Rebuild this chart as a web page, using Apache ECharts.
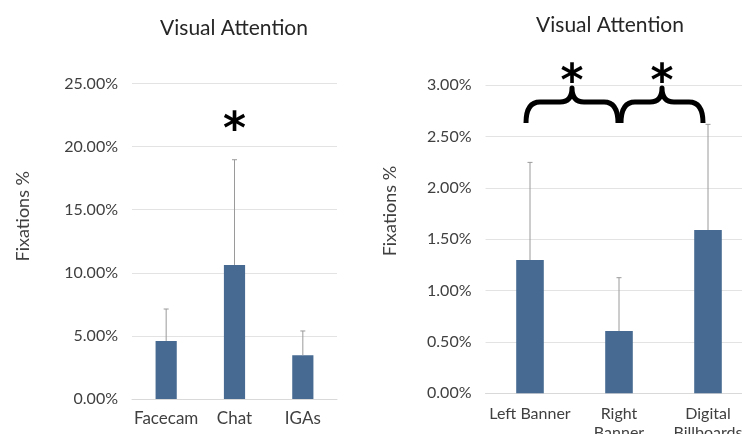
<!DOCTYPE html>
<html><head><meta charset="utf-8">
<script src="https://cdn.jsdelivr.net/npm/echarts@6/dist/echarts.min.js"></script>
<style>html,body{margin:0;padding:0;background:#fff}#c{width:742px;height:434px}</style>
</head><body><div id="c"></div>
<script>
// Left chart data (percent)
const leftCategories = ['Facecam', 'Chat', 'IGAs'];
const leftMeans = [4.6, 10.62, 3.46];
const leftUpper = [7.13, 18.96, 5.39];
const leftTicks = [0, 5, 10, 15, 20, 25];
const leftStars = [[1, 22.1]];

// Right chart data (percent)
const rightCategories = ['Left Banner', 'Right\nBanner', 'Digital\nBillboards'];
const rightMeans = [1.297, 0.606, 1.589];
const rightUpper = [2.247, 1.125, 2.617];
const rightTicks = [0, 0.5, 1, 1.5, 2, 2.5, 3];
const rightBraces = [[0, 1, 2.63], [1, 2, 2.63]];

const FONT = 'Lato';
const TXT = '#404040';
const BAR = '#466a92';

function errRender(params, api) {
  const x = api.value(0), top = api.coord([x, api.value(2)]), base = api.coord([x, api.value(1)]);
  return {type: 'group', children: [
    {type: 'line', shape: {x1: base[0], y1: base[1], x2: top[0], y2: top[1]}, style: {stroke: '#9a9a9a', lineWidth: 1}},
    {type: 'line', shape: {x1: top[0] - 2.5, y1: top[1], x2: top[0] + 2.5, y2: top[1]}, style: {stroke: '#9a9a9a', lineWidth: 1}}
  ]};
}
function starRender(params, api) {
  const p = api.coord([api.value(0), api.value(1)]);
  return {type: 'text', x: p[0], y: p[1] + 11, style: {text: '*', fontSize: 44, fontWeight: 'bold', fontFamily: 'DejaVu Sans', fill: '#000', align: 'center', verticalAlign: 'middle'}};
}
function braceRender(params, api) {
  const a = api.coord([api.value(0), api.value(2)]);
  const b = api.coord([api.value(1), api.value(2)]);
  const first = params.dataIndex === 0;
  const L = a[0] + (first ? -4 : 2), R = b[0] + (first ? -1 : -5);
  const yb = a[1], yh = yb - 21, yp = yb - 35, M = (L + R) / 2;
  const d = `M${L},${yb} Q${L},${yh} ${L+14},${yh} L${M-12},${yh} Q${M},${yh} ${M},${yp} Q${M},${yh} ${M+12},${yh} L${R-14},${yh} Q${R},${yh} ${R},${yb}`;
  return {type: 'group', children: [
    {type: 'path', shape: {pathData: d}, style: {stroke: '#000', lineWidth: 5, fill: null, lineJoin: 'round'}},
    {type: 'text', x: M, y: yp - 4, style: {text: '*', fontSize: 44, fontWeight: 'bold', fontFamily: 'DejaVu Sans', fill: '#000', align: 'center', verticalAlign: 'middle'}}
  ]};
}

const axisLabelY = () => ({color: TXT, fontFamily: FONT, fontSize: 16, margin: 14, formatter: v => v.toFixed(2) + '%'});

const chart = echarts.init(document.getElementById('c'));
chart.setOption({
  animation: false,
  title: [
    {text: 'Visual Attention', left: 229, top: 13, textAlign: 'center', textStyle: {color: '#262626', fontFamily: FONT, fontSize: 21, fontWeight: 'normal'}},
    {text: 'Visual Attention', left: 605, top: 10, textAlign: 'center', textStyle: {color: '#262626', fontFamily: FONT, fontSize: 21, fontWeight: 'normal'}}
  ],
  grid: [
    {left: 132, top: 83.5, width: 205, height: 315.5, outerBoundsMode: 'none', containLabel: false},
    {left: 485.5, top: 85, width: 267, height: 308.3, outerBoundsMode: 'none', containLabel: false}
  ],
  xAxis: [
    {type: 'category', gridIndex: 0, data: leftCategories, axisTick: {show: false}, axisLine: {lineStyle: {color: '#d9d9d9'}},
     axisLabel: {color: TXT, fontFamily: FONT, fontSize: 17, margin: 11, interval: 0}},
    {type: 'category', gridIndex: 1, data: rightCategories, axisTick: {show: false}, axisLine: {lineStyle: {color: '#d9d9d9'}},
     axisLabel: {color: TXT, fontFamily: FONT, fontSize: 16, margin: 11, lineHeight: 19, interval: 0}}
  ],
  yAxis: [
    {type: 'value', gridIndex: 0, min: leftTicks[0], max: leftTicks[leftTicks.length - 1], interval: 5,
     name: 'Fixations %', nameLocation: 'middle', nameGap: 100, nameTextStyle: {color: TXT, fontFamily: FONT, fontSize: 18, padding: [0, 0, 0, 50]},
     axisLabel: axisLabelY(), splitLine: {lineStyle: {color: '#e3e3e3'}}, axisLine: {show: false}, axisTick: {show: false}},
    {type: 'value', gridIndex: 1, min: rightTicks[0], max: rightTicks[rightTicks.length - 1], interval: 0.5,
     name: 'Fixations %', nameLocation: 'middle', nameGap: 86, nameTextStyle: {color: TXT, fontFamily: FONT, fontSize: 18, padding: [0, 0, 0, 56]},
     axisLabel: axisLabelY(), splitLine: {lineStyle: {color: '#e3e3e3'}}, axisLine: {show: false}, axisTick: {show: false}}
  ],
  series: [
    {type: 'bar', xAxisIndex: 0, yAxisIndex: 0, data: leftMeans, barWidth: '31%', itemStyle: {color: BAR}},
    {type: 'custom', xAxisIndex: 0, yAxisIndex: 0, renderItem: errRender, data: leftMeans.map((m, i) => [i, m, leftUpper[i]]), z: 3},
    {type: 'custom', xAxisIndex: 0, yAxisIndex: 0, renderItem: starRender, data: leftStars, clip: false, z: 4},
    {type: 'bar', xAxisIndex: 1, yAxisIndex: 1, data: rightMeans, barWidth: '31%', itemStyle: {color: BAR}},
    {type: 'custom', xAxisIndex: 1, yAxisIndex: 1, renderItem: errRender, data: rightMeans.map((m, i) => [i, m, rightUpper[i]]), z: 3},
    {type: 'custom', xAxisIndex: 1, yAxisIndex: 1, renderItem: braceRender, data: rightBraces, clip: false, z: 4}
  ]
});
</script></body></html>
